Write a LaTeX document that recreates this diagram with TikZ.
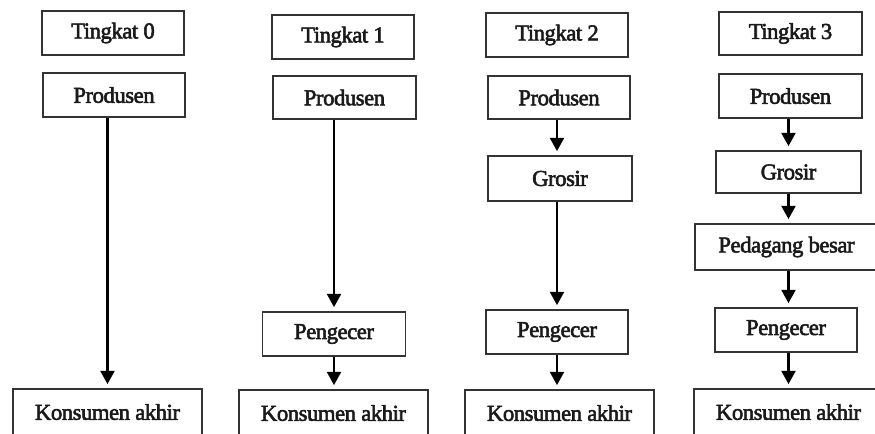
\documentclass[tikz,border=0pt]{standalone}
\usepackage{fontspec}
\setmainfont[FakeBold=2.5,LetterSpace=-2]{Liberation Serif}
\usetikzlibrary{arrows.meta}
\definecolor{boxgray}{HTML}{333333}
\definecolor{textdark}{HTML}{1A1A1A}
\begin{document}
\begin{tikzpicture}[x=0.75pt,y=-0.75pt,
  box/.style={draw=boxgray, line width=1.3pt, fill=white, inner sep=0pt,
    font=\fontsize{17}{20}\selectfont, text=textdark},
  sz/.style 2 args={minimum width=#1*0.75pt, minimum height=#2*0.75pt},
  arr/.style={line width=1.8pt, draw=black, -{Triangle[length=10pt,width=10.5pt]}, shorten >=3pt}]
\useasboundingbox (0,0) rectangle (875,433);
\fill[white] (0,0) rectangle (875,433);
% Tingkat 0
\node[box,sz={142}{44}] (t0) at (113,33) {Tingkat 0};
\node[box,sz={142}{44}] (p0) at (114,95) {Produsen};
\node[box,sz={189}{46}] (k0) at (107.5,412) {Konsumen akhir};
\draw[arr] (p0.south -| k0.north) -- (k0.north);
% Tingkat 1
\node[box,sz={142}{44}] (t1) at (343,37) {Tingkat 1};
\node[box,sz={143}{43}] (p1) at (344.5,97.5) {Produsen};
\node[box,sz={143}{44}] (pg1) at (334,334) {Pengecer};
\node[box,sz={189}{46}] (k1) at (333.5,413) {Konsumen akhir};
\draw[arr] (p1.south -| pg1.north) -- (pg1.north);
\draw[arr] (pg1.south) -- (k1.north -| pg1.south);
% Tingkat 2
\node[box,sz={142}{44}] (t2) at (557,35) {Tingkat 2};
\node[box,sz={142}{43}] (p2) at (559,97.5) {Produsen};
\node[box,sz={144}{45}] (g2) at (560,178.5) {Grosir};
\node[box,sz={142}{44}] (pg2) at (557,332) {Pengecer};
\node[box,sz={189}{46}] (k2) at (559.5,413) {Konsumen akhir};
\draw[arr] (p2.south -| pg2.north) -- (g2.north -| pg2.north);
\draw[arr] (g2.south -| pg2.north) -- (pg2.north);
\draw[arr] (pg2.south) -- (k2.north -| pg2.south);
% Tingkat 3
\node[box,sz={143}{43}] (t3) at (790.5,33.5) {Tingkat 3};
\node[box,sz={143}{44}] (p3) at (790.5,96) {Produsen};
\node[box,sz={145}{42}] (g3) at (788.5,172) {Grosir};
\node[box,sz={183}{46}] (pb3) at (786.5,247) {Pedagang besar};
\node[box,sz={142}{44}] (pg3) at (786,330) {Pengecer};
\node[box,sz={189}{46}] (k3) at (788.5,412) {Konsumen akhir};
\draw[arr] (p3.south -| g3.north) -- (g3.north);
\draw[arr] (g3.south) -- (pb3.north -| g3.south);
\draw[arr] (pb3.south -| g3.south) -- (pg3.north -| g3.south);
\draw[arr] (pg3.south -| g3.south) -- (k3.north -| g3.south);
\end{tikzpicture}
\end{document}
